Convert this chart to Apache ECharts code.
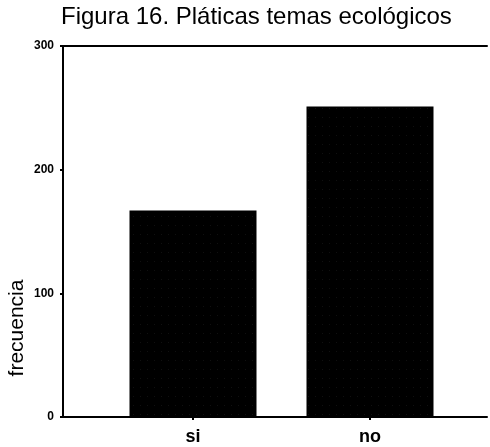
<!DOCTYPE html>
<html>
<head>
<meta charset="utf-8">
<script src="https://cdn.jsdelivr.net/npm/echarts@6/dist/echarts.min.js"></script>
<style>html,body{margin:0;padding:0;background:#fff;}#c{width:490px;height:447px;}</style>
</head>
<body>
<div id="c"></div>
<script>
const titleText = 'Figura 16. Pláticas temas ecológicos';
const yAxisName = 'frecuencia';
const categories = ['si', 'no'];
const frecuencia = [167, 251];
const yTicks = [0, 100, 200, 300];

const chart = echarts.init(document.getElementById('c'), null, {renderer: 'canvas'});
const FONT = 'Liberation Sans, Arial, sans-serif';
chart.setOption({
  animation: false,
  backgroundColor: '#fff',
  aria: {enabled: true, decal: {show: true}},
  title: {
    text: titleText, left: 61, top: 5, padding: 0,
    textStyle: {fontFamily: FONT, fontSize: 24, fontWeight: 'normal', color: '#000'}
  },
  grid: [
    {left: 63, right: 3, top: 46, bottom: 30},
    {left: 104.5, right: 31.5, top: 46, bottom: 30}
  ],
  xAxis: [
    {gridIndex: 0, type: 'value', min: 0, max: 1, position: 'bottom',
     axisLine: {show: true, lineStyle: {color: '#000', width: 2}},
     axisTick: {show: false}, axisLabel: {show: false}, splitLine: {show: false}},
    {gridIndex: 0, type: 'value', min: 0, max: 1, position: 'top',
     axisLine: {show: true, lineStyle: {color: '#000', width: 2}},
     axisTick: {show: false}, axisLabel: {show: false}, splitLine: {show: false}},
    {gridIndex: 1, type: 'category', data: categories,
     axisLine: {show: false},
     axisTick: {show: true, alignWithLabel: true, length: 3, lineStyle: {color: '#000', width: 2}},
     axisLabel: {fontFamily: FONT, fontSize: 18, fontWeight: 'bold', color: '#000', margin: 11}}
  ],
  yAxis: [
    {gridIndex: 0, type: 'value', min: yTicks[0], max: yTicks[yTicks.length - 1], interval: 100,
     axisLine: {show: true, lineStyle: {color: '#000', width: 2}},
     axisTick: {show: true, length: 3, lineStyle: {color: '#000', width: 2}},
     axisLabel: {fontFamily: FONT, fontSize: 12, fontWeight: 'bold', color: '#000', margin: 9},
     splitLine: {show: false}},
    {gridIndex: 1, type: 'value', min: yTicks[0], max: yTicks[yTicks.length - 1], show: false}
  ],
  graphic: [{
    type: 'text', x: 17.5, y: 328, rotation: Math.PI / 2,
    style: {text: yAxisName, font: '21px ' + FONT, fill: '#000', align: 'center', verticalAlign: 'middle'}
  }],
  series: [{
    type: 'bar', xAxisIndex: 2, yAxisIndex: 1, data: frecuencia, barWidth: 127,
    itemStyle: {
      color: '#000',
      decal: {symbol: 'circle', symbolSize: 0.6, color: 'rgba(160,160,160,0.45)', dashArrayX: [1, 6], dashArrayY: [1, 8], rotation: 0}
    }
  }]
});
</script>
</body>
</html>
